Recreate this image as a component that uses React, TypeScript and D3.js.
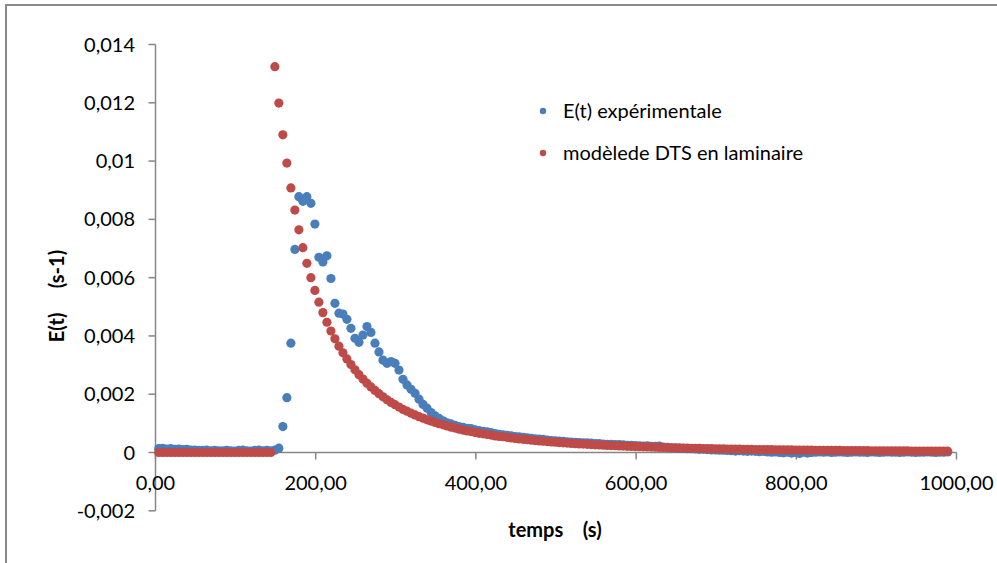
import React from "react";
import * as d3 from "d3";

// sampling grid (s)
const T_START = 4;
const T_STEP = 5;

// E(t) experimental
const expValues = [
  0.00013, 0.00014, 0.00012, 0.00013, 0.00011, 0.00012, 0.0001, 0.00011, 0.00008, 0.00008,
  0.00007, 0.00007, 0.00008, 0.00006, 0.00007, 0.00006, 0.00006, 0.00007, 0.00006, 0.00005,
  0.00007, 0.00008, 0.00006, 0.00005, 0.00007, 0.00008, 0.00006, 0.00007, 0.00006, 0.00008,
  0.00015, 0.00089, 0.00188, 0.00375, 0.00697, 0.00878, 0.00862, 0.00878, 0.00855, 0.00784,
  0.0067, 0.00654, 0.00675, 0.00597, 0.00512, 0.00478, 0.00475, 0.00457, 0.00426, 0.00392,
  0.00378, 0.00403, 0.00432, 0.00412, 0.00375, 0.00345, 0.00317, 0.00306, 0.00312, 0.00306,
  0.00283, 0.00251, 0.00232, 0.00217, 0.00203, 0.00183, 0.00165, 0.00152, 0.00137, 0.00126,
  0.00117, 0.00109, 0.00102, 0.00098, 0.00093, 0.00089, 0.00086, 0.00083, 0.00082, 0.00078,
  0.00075, 0.00073, 0.00071, 0.00068, 0.00065, 0.00062, 0.00061, 0.00059, 0.00057, 0.00055,
  0.00054, 0.00052, 0.0005, 0.00049, 0.00047, 0.00046, 0.00045, 0.00043, 0.00041, 0.0004,
  0.00039, 0.00038, 0.00037, 0.00036, 0.00035, 0.00034, 0.00033, 0.00033, 0.00032, 0.00031,
  0.00031, 0.00029, 0.00028, 0.00028, 0.00027, 0.00027, 0.00026, 0.00025, 0.00025, 0.00024,
  0.00023, 0.00022, 0.00023, 0.00021, 0.00021, 0.00022, 0.00019, 0.00018, 0.00016, 0.00015,
  0.00014, 0.00014, 0.00013, 0.00013, 0.00012, 0.00011, 0.00011, 0.0001, 0.00009, 0.00009,
  0.00008, 0.00008, 0.00007, 0.00006, 0.00005, 0.00006, 0.00005, 0.00004, 0.00005, 0.00004,
  0.00003, 0.00004, 0.00002, 0.00001, 0.00002, 0.0, -0.00001, 0.00001, -0.00002, 0.0,
  -0.00003, 0.00001, -0.00002, 0.0, 0.00001, 0.00002, 0.00001, 0.00002, 0.0, 0.00001,
  0.00002, 0.00001, 0.0, 0.00001, 0.00002, 0.00001, 0.00001, 0.0, 0.00002, 0.00001,
  0.0, 0.00001, 0.00002, 0.00001, 0.00001, 0.0, 0.00001, 0.00002, 0.00001, 0.0,
  0.00001, 0.00001, 0.00002, 0.00001, 0.0, 0.00001, 0.00001, 0.00002,
];

// laminar RTD model
const modelValues = [
  0, 0, 0, 0, 0, 0, 0, 0, 0, 0,
  0, 0, 0, 0, 0, 0, 0, 0, 0, 0,
  0, 0, 0, 0, 0, 0, 0, 0, 0, 0.01324,
  0.01199, 0.0109, 0.00993, 0.00908, 0.00832, 0.00764, 0.00703, 0.00649, 0.006, 0.00556,
  0.00516, 0.0048, 0.00447, 0.00417, 0.0039, 0.00365, 0.00342, 0.00321, 0.00302, 0.00284,
  0.00267, 0.00252, 0.00238, 0.00225, 0.00213, 0.00202, 0.00191, 0.00181, 0.00172, 0.00164,
  0.00156, 0.00148, 0.00142, 0.00135, 0.00129, 0.00123, 0.00118, 0.00112, 0.00108, 0.00103,
  0.00099, 0.00095, 0.00091, 0.00087, 0.00084, 0.0008, 0.00077, 0.00074, 0.00072, 0.00069,
  0.00066, 0.00064, 0.00062, 0.0006, 0.00057, 0.00055, 0.00054, 0.00052, 0.0005, 0.00048,
  0.000468, 0.000453, 0.000439, 0.000425, 0.000411, 0.000399, 0.000386, 0.000375, 0.000363, 0.000353,
  0.000342, 0.000332, 0.000323, 0.000313, 0.000304, 0.000296, 0.000288, 0.00028, 0.000272, 0.000265,
  0.000258, 0.000251, 0.000244, 0.000238, 0.000232, 0.000226, 0.00022, 0.000214, 0.000209, 0.000204,
  0.000199, 0.000194, 0.000189, 0.000185, 0.00018, 0.000176, 0.000172, 0.000168, 0.000164, 0.00016,
  0.000157, 0.000153, 0.00015, 0.000146, 0.000143, 0.00014, 0.000137, 0.000134, 0.000131, 0.000128,
  0.000126, 0.000123, 0.00012, 0.000118, 0.000115, 0.000113, 0.000111, 0.000109, 0.000106, 0.000104,
  0.000102, 0.0001, 0.000098, 0.000096, 0.000094, 0.000093, 0.000091, 0.000089, 0.000088, 0.000086,
  0.000084, 0.000083, 0.000081, 0.00008, 0.000078, 0.000077, 0.000076, 0.000074, 0.000073, 0.000072,
  0.00007, 0.000069, 0.000068, 0.000067, 0.000066, 0.000065, 0.000063, 0.000062, 0.000061, 0.00006,
  0.000059, 0.000058, 0.000057, 0.000056, 0.000056, 0.000055, 0.000054, 0.000053, 0.000052, 0.000051,
  0.00005, 0.00005, 0.000049, 0.000048, 0.000047, 0.000047, 0.000046, 0.000045,
];

const xTicks = [0, 200, 400, 600, 800, 1000];
const yTicks = [-0.002, 0, 0.002, 0.004, 0.006, 0.008, 0.01, 0.012, 0.014];

const seriesNames = ["E(t) expérimentale", "modèlede DTS en laminaire"];
const seriesColors = ["#4a7ebb", "#be4b48"];

const W = 997;
const H = 563;
const FONT = "Lato, 'Open Sans', sans-serif";
const AXIS = "#868686";

// excel style, comma decimals and a plain hyphen for negatives
const fmtX = (v: number) => v.toFixed(2).replace(".", ",");
const fmtY = (v: number) => (v === 0 ? "0" : String(+v.toFixed(3)).replace(".", ","));

export default function App() {
  const x = d3.scaleLinear().domain([0, 1000]).range([155.5, 956.5]);
  const y = d3.scaleLinear().domain([-0.002, 0.014]).range([510.8, 44.5]);

  const times = expValues.map((_, i) => T_START + i * T_STEP);
  const series = [expValues, modelValues];

  return (
    <svg
      width={W}
      height={H}
      style={{ position: "absolute", left: 0, top: 0, background: "#fff" }}
      fontFamily={FONT}
    >
      <rect x={6} y={5} width={W + 20} height={H + 20} fill="#fff" stroke="#8a8a8a" strokeWidth={2} />

      {/* axes */}
      <line x1={x(0)} x2={x(0)} y1={y(0.014)} y2={y(-0.002)} stroke={AXIS} strokeWidth={1.5} />
      <line x1={x(0)} x2={x(1000)} y1={y(0)} y2={y(0)} stroke={AXIS} strokeWidth={1.5} />

      {yTicks.map((t) => (
        <g key={"y" + t}>
          <line x1={x(0) - 7} x2={x(0)} y1={y(t)} y2={y(t)} stroke={AXIS} strokeWidth={1.5} />
          <text x={135} y={y(t)} dy="0.35em" textAnchor="end" fontSize={20} fill="#000">
            {fmtY(t)}
          </text>
        </g>
      ))}

      {xTicks.map((t) => (
        <g key={"x" + t}>
          <line x1={x(t)} x2={x(t)} y1={y(0)} y2={y(0) + 7} stroke={AXIS} strokeWidth={1.5} />
          <text x={x(t)} y={483} dy="0.35em" textAnchor="middle" fontSize={20} fill="#000">
            {fmtX(t)}
          </text>
        </g>
      ))}

      {/* points */}
      {series.map((vals, s) => (
        <g key={"s" + s} fill={seriesColors[s]}>
          {vals.map((v, i) => (
            <circle key={i} cx={x(times[i])} cy={y(v)} r={4.6} />
          ))}
        </g>
      ))}

      {/* legend */}
      {seriesNames.map((name, i) => (
        <g key={name} transform={`translate(543, ${111 + i * 42})`}>
          <circle r={3.2} fill={seriesColors[i]} />
          <text x={20} dy="0.35em" fontSize={20} fill="#000">
            {name}
          </text>
        </g>
      ))}

      {/* axis titles */}
      <text
        x={555}
        y={530}
        dy="0.35em"
        textAnchor="middle"
        fontSize={20}
        fontWeight="bold"
        style={{ whiteSpace: "pre" }}
      >
        {"temps    (s)"}
      </text>
      <text
        transform="translate(57, 296) rotate(-90)"
        dy="0.35em"
        textAnchor="middle"
        fontSize={20}
        fontWeight="bold"
        style={{ whiteSpace: "pre" }}
      >
        {"E(t)     (s-1)"}
      </text>
    </svg>
  );
}
